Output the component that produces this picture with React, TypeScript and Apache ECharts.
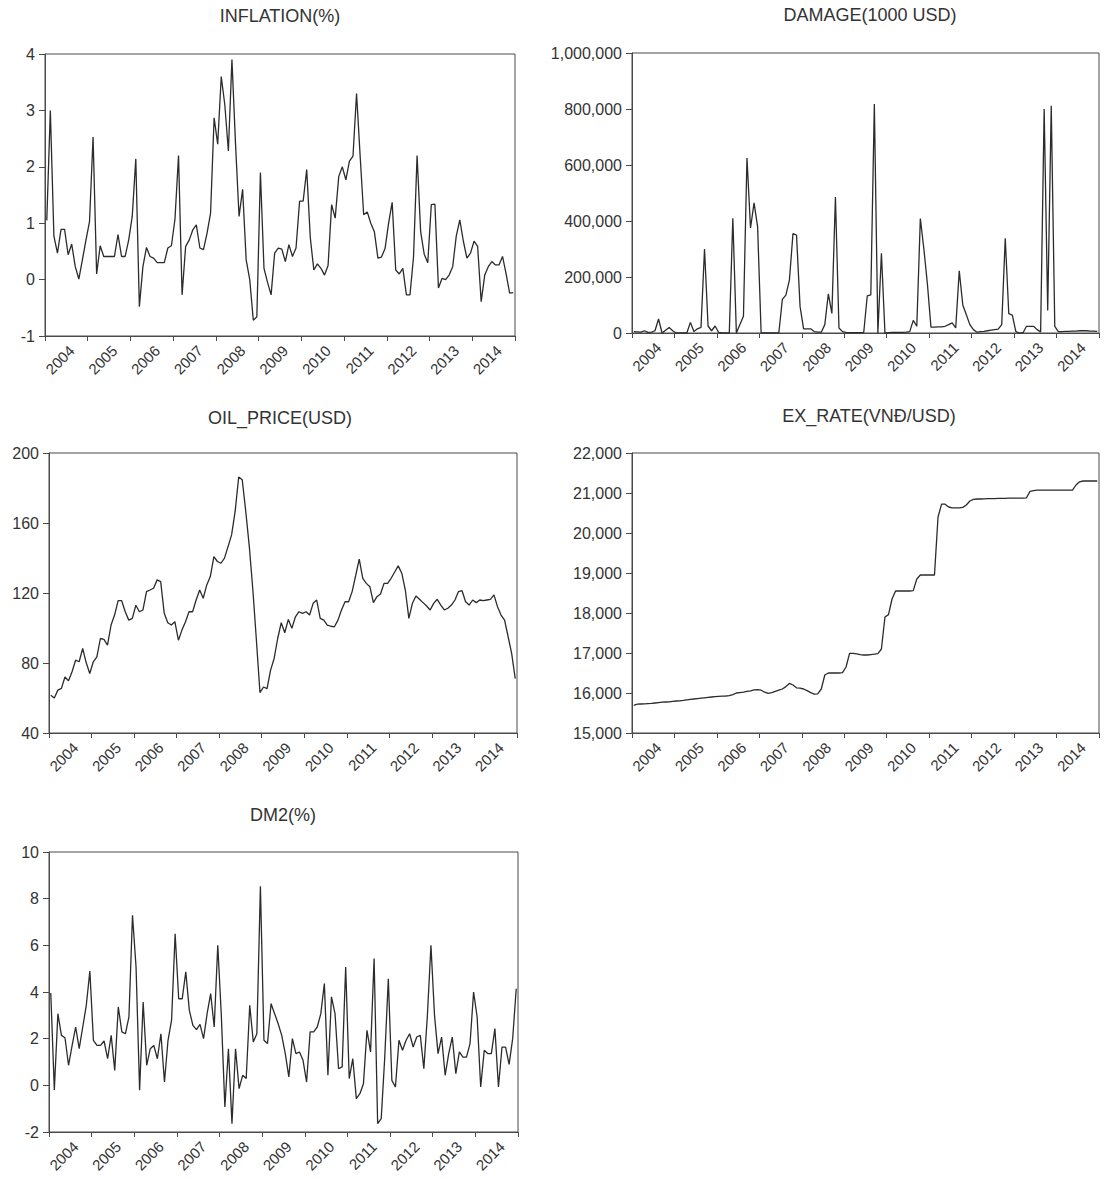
import React, { useEffect, useRef } from "react";
import * as echarts from "echarts";

const YEARS = ["2004", "2005", "2006", "2007", "2008", "2009", "2010", "2011", "2012", "2013", "2014"];
const MONTHS: string[] = YEARS.flatMap((y) =>
  ["01", "02", "03", "04", "05", "06", "07", "08", "09", "10", "11", "12"].map((m) => `${y}M${m}`)
);

const TITLES = ["INFLATION(%)", "DAMAGE(1000 USD)", "OIL_PRICE(USD)", "EX_RATE(VNĐ/USD)", "DM2(%)"];

const INFLATION = [
  1.05, 3.0, 0.77, 0.47, 0.89, 0.89, 0.44, 0.63, 0.23, 0.01, 0.35, 0.7,
  1.03, 2.53, 0.1, 0.6, 0.41, 0.41, 0.41, 0.41, 0.8, 0.41, 0.41, 0.7,
  1.12, 2.14, -0.48, 0.23, 0.57, 0.41, 0.38, 0.3, 0.3, 0.3, 0.56, 0.6,
  1.07, 2.2, -0.27, 0.59, 0.7, 0.88, 0.97, 0.56, 0.53, 0.82, 1.18, 2.87,
  2.4, 3.6, 3.1, 2.28, 3.9, 2.42, 1.12, 1.6, 0.35, 0.0, -0.72, -0.66,
  1.9, 0.2, -0.05, -0.27, 0.47, 0.56, 0.54, 0.32, 0.62, 0.41, 0.56, 1.39,
  1.39, 1.95, 0.75, 0.17, 0.28, 0.2, 0.08, 0.25, 1.33, 1.09, 1.83, 2.0,
  1.77, 2.1, 2.19, 3.3, 2.2, 1.15, 1.2, 1.0, 0.85, 0.38, 0.4, 0.55,
  1.0, 1.37, 0.17, 0.1, 0.2, -0.27, -0.27, 0.4, 2.2, 0.85, 0.45, 0.3,
  1.33, 1.34, -0.15, 0.02, 0.0, 0.08, 0.23, 0.77, 1.06, 0.68, 0.38, 0.47,
  0.68, 0.59, -0.39, 0.08, 0.23, 0.32, 0.26, 0.26, 0.41, 0.1, -0.24, -0.23,
];

const DAMAGE = [
  5000, 4000, 3000, 8000, 2000, 3000, 8000, 50000, 0, 10000, 20000, 8000,
  0, 0, 0, 0, 38000, 5000, 15000, 20000, 300000, 25000, 8000, 25000,
  2000, 0, 0, 0, 410000, 0, 30000, 60000, 625000, 375000, 465000, 380000,
  0, 0, 0, 0, 0, 0, 120000, 135000, 190000, 355000, 350000, 95000,
  15000, 15000, 15000, 5000, 3000, 3000, 30000, 140000, 70000, 486000, 18000, 5000,
  2000, 1000, 1000, 1000, 1000, 2000, 133000, 136000, 818000, 0, 285000, 0,
  1000, 2000, 2000, 2000, 2000, 3000, 5000, 45000, 24000, 409000, 300000, 175000,
  21000, 21000, 22000, 22000, 24000, 30000, 36000, 18000, 222000, 100000, 65000, 30000,
  12000, 3000, 5000, 6000, 8000, 10000, 12000, 14000, 30000, 338000, 69000, 64000,
  5000, 0, 0, 24000, 24000, 24000, 12000, 4000, 800000, 80000, 812000, 24000,
  5000, 5000, 6000, 6000, 7000, 7000, 8000, 8000, 8000, 7000, 7000, 6000,
];

const OIL_PRICE = [
  61.6, 60, 64.5, 65.5, 72, 69.8, 75, 81.6, 80.7, 88.3, 80.1, 74,
  80.7, 83.5, 94, 93.5, 90.2, 101.7, 107.4, 115.6, 115.6, 109.3, 104.5, 105.5,
  113, 109.3, 110.3, 120.8, 121.7, 122.7, 127.5, 126.5, 108.4, 103, 101.7, 103.6,
  93, 98.8, 103.6, 109.3, 109.3, 116, 121.7, 117, 124.6, 129.4, 140.8, 138,
  137, 139.9, 146.5, 153.2, 166.6, 186.3, 184.7, 166.6, 146.5, 121.7, 93, 63.1,
  66.3, 65.4, 75.9, 82.6, 94, 103, 97.3, 104.9, 99.8, 106.4, 109.3, 108.4,
  109.3, 107.4, 114.1, 116, 105.5, 104.5, 101.7, 101, 100.7, 104.5, 110.3, 115,
  115, 120.8, 130, 139.3, 128.4, 125.5, 123.6, 114.5, 117.9, 119.4, 125.5, 125.5,
  128.4, 132, 135.5, 131.3, 121.7, 105.5, 114.1, 118.3, 116.4, 114.5, 112.6, 110.3,
  114.1, 116.4, 113.1, 110.3, 111.3, 113.1, 116, 120.8, 121.3, 115, 113.1, 116,
  114.5, 116, 115.6, 116, 116.4, 118.9, 112.2, 107.4, 104.5, 95, 85.4, 71.1,
];

const EX_RATE = [
  15690, 15720, 15725, 15730, 15735, 15740, 15750, 15760, 15770, 15775, 15780, 15790,
  15800, 15805, 15815, 15830, 15840, 15850, 15860, 15870, 15880, 15890, 15900, 15910,
  15915, 15920, 15925, 15935, 15960, 16000, 16010, 16020, 16040, 16055, 16080, 16085,
  16070, 16020, 15990, 16010, 16040, 16070, 16100, 16160, 16240, 16200, 16130, 16120,
  16100, 16060, 16010, 15970, 15980, 16100, 16450, 16500, 16500, 16500, 16500, 16510,
  16650, 16990, 16990, 16980, 16960, 16950, 16950, 16960, 16970, 16985, 17100, 17900,
  17960, 18350, 18550, 18550, 18550, 18550, 18550, 18560, 18850, 18950, 18950, 18950,
  18950, 18950, 20400, 20720, 20720, 20650, 20630, 20630, 20630, 20640, 20700, 20800,
  20840, 20850, 20850, 20855, 20860, 20860, 20860, 20865, 20865, 20865, 20870, 20870,
  20870, 20870, 20870, 20880, 21040, 21060, 21070, 21070, 21070, 21070, 21070, 21070,
  21070, 21070, 21070, 21070, 21070, 21200, 21280, 21300, 21300, 21300, 21300, 21300,
];

const DM2 = [
  3.96, -0.2, 3.07, 2.14, 2.04, 0.86, 1.7, 2.5, 1.57, 2.5, 3.43, 4.9,
  1.93, 1.71, 1.71, 1.9, 1.14, 2.14, 0.64, 3.36, 2.29, 2.21, 2.93, 7.29,
  5.07, -0.21, 3.57, 0.86, 1.57, 1.71, 1.14, 2.21, 0.14, 1.93, 2.79, 6.5,
  3.71, 3.71, 4.86, 3.21, 2.57, 2.39, 2.61, 2.0, 3.07, 3.93, 2.5, 6.0,
  3.0, -0.93, 1.57, -1.64, 1.57, -0.14, 0.43, 0.29, 3.43, 1.86, 2.21, 8.53,
  1.93, 1.79, 3.5, 3.07, 2.64, 2.14, 1.36, 0.36, 2.0, 1.36, 1.43, 1.07,
  0.14, 2.29, 2.29, 2.5, 3.07, 4.36, 0.43, 3.79, 3.07, 0.71, 0.79, 5.07,
  0.29, 1.14, -0.57, -0.36, 0.07, 2.36, 1.43, 5.43, -1.64, -1.43, 1.21, 4.57,
  0.21, -0.07, 1.93, 1.5, 1.93, 2.21, 1.64, 2.07, 2.14, 0.71, 3.0, 6.0,
  3.0, 1.36, 2.07, 0.43, 1.36, 2.07, 0.5, 1.43, 1.21, 1.21, 1.79, 4.0,
  2.93, -0.07, 1.5, 1.36, 1.36, 2.43, -0.07, 1.64, 1.64, 0.9, 2.0, 4.14,
];

const FONT = '"Liberation Sans", Arial, Helvetica, sans-serif';
const INK = "#2b2b2b";
const FRAME = "#4a4a4a";

type Panel = {
  title: string;
  data: number[];
  min: number;
  max: number;
  interval: number;
  comma: boolean;
  grid: { left: number; top: number; width: number; height: number };
  titlePos: [number, number];
};

const fmtComma = (v: number) => v.toLocaleString("en-US");

export default function App() {
  const ref = useRef<HTMLDivElement>(null);

  useEffect(() => {
    if (!ref.current) return;
    const chart = echarts.init(ref.current, undefined, { renderer: "svg" });

    const panels: Panel[] = [
      { title: TITLES[0], data: INFLATION, min: -1, max: 4, interval: 1, comma: false,
        grid: { left: 45, top: 54, width: 470, height: 282 }, titlePos: [280, 16] },
      { title: TITLES[1], data: DAMAGE, min: 0, max: 1000000, interval: 200000, comma: true,
        grid: { left: 632, top: 53, width: 467, height: 280 }, titlePos: [870, 15] },
      { title: TITLES[2], data: OIL_PRICE, min: 40, max: 200, interval: 40, comma: false,
        grid: { left: 49, top: 453, width: 468, height: 280 }, titlePos: [280, 418] },
      { title: TITLES[3], data: EX_RATE, min: 15000, max: 22000, interval: 1000, comma: true,
        grid: { left: 632, top: 453, width: 467, height: 280 }, titlePos: [869, 416] },
      { title: TITLES[4], data: DM2, min: -2, max: 10, interval: 2, comma: false,
        grid: { left: 49, top: 852, width: 469, height: 280 }, titlePos: [283, 815] },
    ];

    const option: any = {
      animation: false,
      backgroundColor: "#ffffff",
      textStyle: { fontFamily: FONT },
      grid: panels.map((p) => ({
        ...p.grid,
        show: true,
        borderColor: FRAME,
        borderWidth: 1,
        backgroundColor: "transparent",
        containLabel: false,
      })),
      xAxis: panels.map((_, i) => ({
        type: "category",
        gridIndex: i,
        data: MONTHS,
        boundaryGap: true,
        axisLine: { show: true, onZero: false, lineStyle: { color: FRAME, width: 1 } },
        axisTick: {
          show: true,
          interval: (idx: number) => idx % 12 === 0,
          length: 5,
          inside: false,
          lineStyle: { color: FRAME, width: 1 },
        },
        axisLabel: {
          show: true,
          interval: (idx: number) => idx % 12 === 7,
          formatter: (v: string) => v.slice(0, 4),
          rotate: 45,
          margin: 12,
          fontSize: 15,
          color: "#333",
          fontFamily: FONT,
        },
        splitLine: { show: false },
      })),
      yAxis: panels.map((p, i) => ({
        type: "value",
        gridIndex: i,
        min: p.min,
        max: p.max,
        interval: p.interval,
        axisLine: { show: true, onZero: false, lineStyle: { color: FRAME, width: 1 } },
        axisTick: { show: true, length: 6, lineStyle: { color: FRAME, width: 1 } },
        axisLabel: {
          margin: 10,
          fontSize: 16,
          color: "#333",
          fontFamily: FONT,
          formatter: p.comma ? fmtComma : (v: number) => String(v),
        },
        splitLine: { show: false },
      })),
      series: panels.map((p, i) => ({
        type: "line",
        name: p.title,
        xAxisIndex: i,
        yAxisIndex: i,
        data: p.data,
        symbol: "none",
        showSymbol: false,
        lineStyle: { color: INK, width: 1.3 },
        emphasis: { disabled: true },
      })),
      graphic: panels.map((p) => ({
        type: "text",
        x: p.titlePos[0],
        y: p.titlePos[1],
        style: {
          text: p.title,
          fontSize: 18,
          fontFamily: FONT,
          fill: "#333",
          textAlign: "center",
          textVerticalAlign: "middle",
        },
      })),
    };

    chart.setOption(option);
    return () => chart.dispose();
  }, []);

  return (
    <div
      ref={ref}
      style={{ position: "absolute", left: 0, top: 0, width: 1110, height: 1179, background: "#fff" }}
    />
  );
}
